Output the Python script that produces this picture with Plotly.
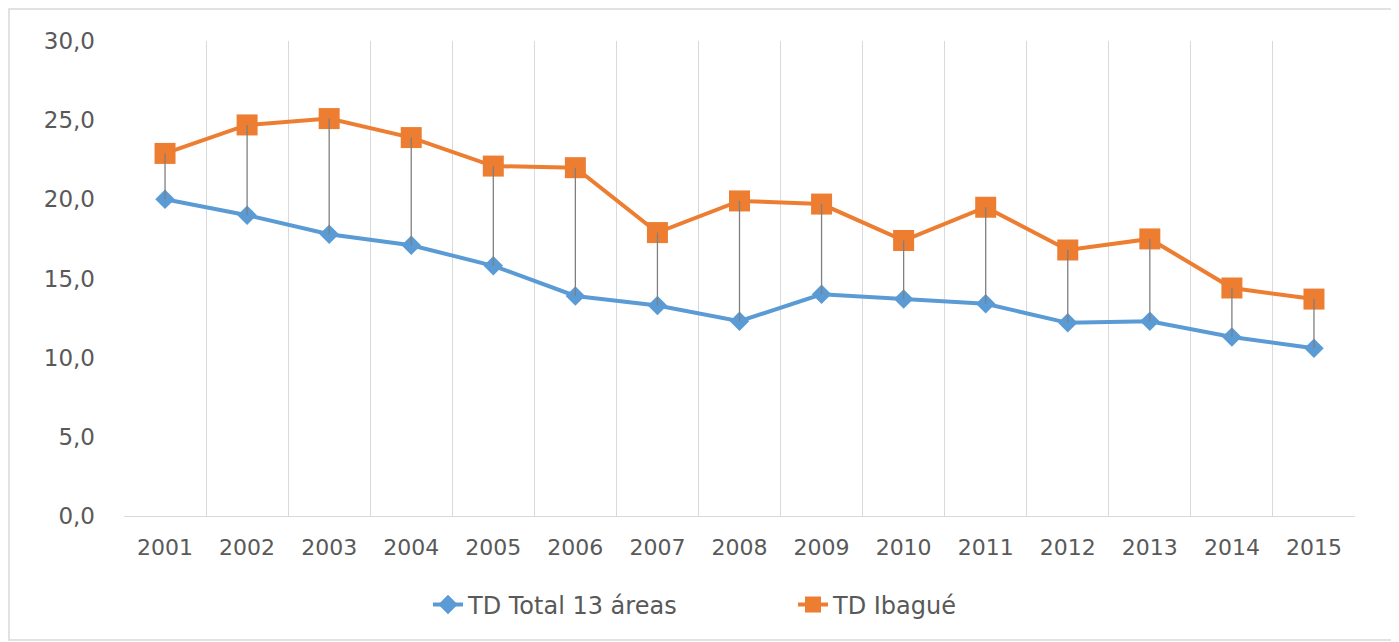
import plotly.graph_objects as go

years = ["2001", "2002", "2003", "2004", "2005", "2006", "2007", "2008",
         "2009", "2010", "2011", "2012", "2013", "2014", "2015"]
td_total = [20.0, 19.0, 17.8, 17.1, 15.8, 13.9, 13.3, 12.3, 14.0, 13.7, 13.4, 12.2, 12.3, 11.3, 10.6]
td_ibague = [22.9, 24.7, 25.1, 23.9, 22.1, 22.0, 17.9, 19.9, 19.7, 17.4, 19.5, 16.8, 17.5, 14.4, 13.7]
series_names = ["TD Total 13 áreas", "TD Ibagué"]
y_ticks = [0, 5, 10, 15, 20, 25, 30]

BLUE = "#5B9BD5"
ORANGE = "#ED7D31"
TXT = "#595959"
FONT = "DejaVu Sans"

# drop (high-low) lines
dx, dy = [], []
for yr, a, b in zip(years, td_ibague, td_total):
    dx += [yr, yr, None]
    dy += [a, b, None]

fig = go.Figure()
fig.add_trace(go.Scatter(x=years, y=td_total, name=series_names[0], mode="lines+markers",
                         line=dict(color=BLUE, width=4),
                         marker=dict(symbol="diamond", size=15, color=BLUE)))
fig.add_trace(go.Scatter(x=years, y=td_ibague, name=series_names[1], mode="lines+markers",
                         line=dict(color=ORANGE, width=4),
                         marker=dict(symbol="square", size=21, color=ORANGE)))
fig.add_trace(go.Scatter(x=dx, y=dy, mode="lines", showlegend=False, hoverinfo="skip",
                         line=dict(color="#7F7F7F", width=1.3)))

OFF = 8  # page body margin
W, H = 1399 - OFF, 642 - OFF
L, R, T, B = 124 - OFF, 1355 - OFF, 41 - OFF, 516 - OFF
pw, ph = R - L, B - T

def px_x(x):
    return (x - OFF - L) / pw

def px_y(y):
    return (B - (y - OFF)) / ph

fig.update_layout(
    width=W, height=H,
    margin=dict(l=L, r=W - R, t=T, b=H - B),
    paper_bgcolor="white", plot_bgcolor="white",
    separators=",.",
    font=dict(family=FONT, color=TXT, size=22),
    showlegend=True,
    legend=dict(orientation="h", x=px_x(428), xanchor="left",
                y=px_y(605), yanchor="middle",
                font=dict(family=FONT, size=24, color=TXT),
                entrywidth=320, entrywidthmode="pixels",
                traceorder="normal"),
    xaxis=dict(type="category", tickson="boundaries", showgrid=True,
               gridcolor="#D9D9D9", gridwidth=1, showline=True, linecolor="#D9D9D9",
               linewidth=1, ticks="", ticklabelstandoff=12,
               tickfont=dict(family=FONT, size=22, color=TXT),
               range=[-0.5, len(years) - 0.5], zeroline=False),
    yaxis=dict(range=[0, 30], tickvals=y_ticks, tickformat=".1f", showgrid=False,
               zeroline=False, showline=False, ticks="", ticklabelstandoff=28,
               tickfont=dict(family=FONT, size=23, color=TXT)),
    shapes=[dict(type="rect", xref="paper", yref="paper",
                 x0=px_x(9), x1=px_x(1395),
                 y0=px_y(640), y1=px_y(9),
                 line=dict(color="#D9D9D9", width=1.5), layer="below")],
)

fig.write_html("out.html")
